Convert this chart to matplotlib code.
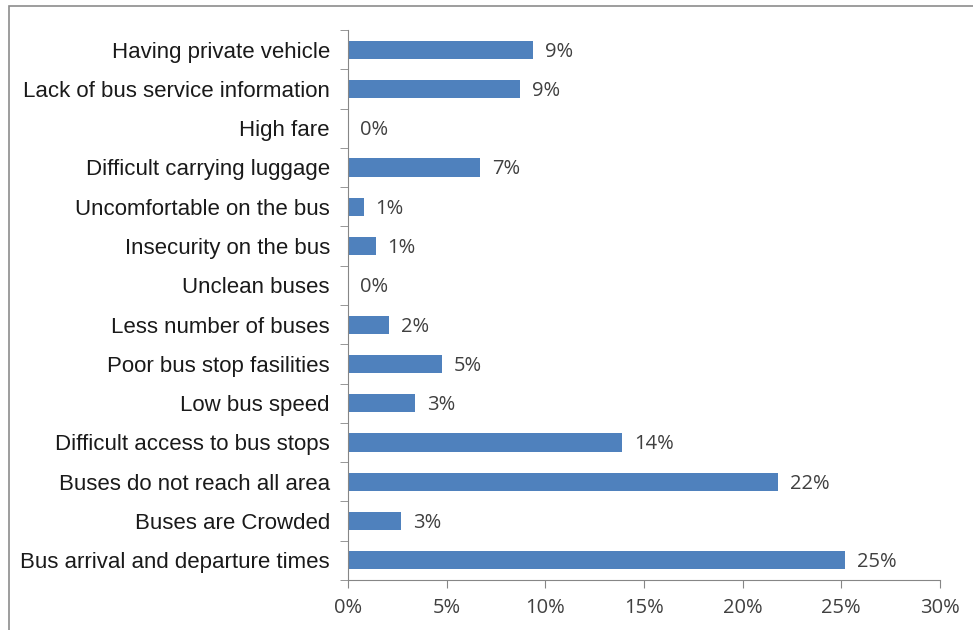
"""Horizontal bar chart: reasons for not using the bus."""

import matplotlib
matplotlib.use("Agg")
import matplotlib.pyplot as plt
from matplotlib.patches import Rectangle
from matplotlib.ticker import FuncFormatter, MultipleLocator

# categories listed top to bottom as in the reference
categories = [
    "Having private vehicle",
    "Lack of bus service information",
    "High fare",
    "Difficult carrying luggage",
    "Uncomfortable on the bus",
    "Insecurity on the bus",
    "Unclean buses",
    "Less number of buses",
    "Poor bus stop fasilities",
    "Low bus speed",
    "Difficult access to bus stops",
    "Buses do not reach all area",
    "Buses are Crowded",
    "Bus arrival and departure times",
]
shares = [9.4, 8.7, 0.0, 6.7, 0.8, 1.4, 0.0, 2.1, 4.75, 3.4, 13.9, 21.8, 2.7, 25.2]

BAR_COLOR = "#4F81BD"
AXIS_COLOR = "#868686"

fig = plt.figure(figsize=(9.73, 6.3), dpi=100)
ax = fig.add_axes([0.3577, 0.0794, 0.6083, 0.8730])

# outer chart frame (only top and left edges visible in the reference)
fig.patches.append(Rectangle((9 / 973, -0.1), 1.2, 1 - 6 / 630 + 0.1,
                             transform=fig.transFigure, fill=False,
                             edgecolor="#8c8c8c", linewidth=1.2))

ypos = list(range(len(categories)))[::-1]
ax.barh(ypos, shares, height=0.46, color=BAR_COLOR)

for y, v in zip(ypos, shares):
    ax.text(v + 0.6, y - 0.05, f"{v:.0f}%", va="center", ha="left",
            fontsize=14.5, color="#404040", family="Open Sans")

ax.set_xlim(0, 30)
ax.set_ylim(-0.5, len(categories) - 0.5)
ax.xaxis.set_major_locator(MultipleLocator(5))
ax.xaxis.set_major_formatter(FuncFormatter(lambda x, _: f"{x:.0f}%"))

ax.set_yticks(ypos)
ax.set_yticklabels(categories, fontsize=16, color="#1a1a1a",
                   family="Liberation Sans")
ax.set_yticks([y + 0.5 for y in range(-1, len(categories))], minor=True)
ax.tick_params(axis="y", which="major", length=0, pad=13)
ax.tick_params(axis="y", which="minor", length=6, color=AXIS_COLOR)
ax.tick_params(axis="x", length=6, color=AXIS_COLOR, pad=7,
               labelsize=14.5, labelcolor="#404040")
for lbl in ax.get_xticklabels():
    lbl.set_family("Open Sans")

for side in ("top", "right"):
    ax.spines[side].set_visible(False)
for side in ("left", "bottom"):
    ax.spines[side].set_color(AXIS_COLOR)

fig.savefig("out.png", dpi=100)
